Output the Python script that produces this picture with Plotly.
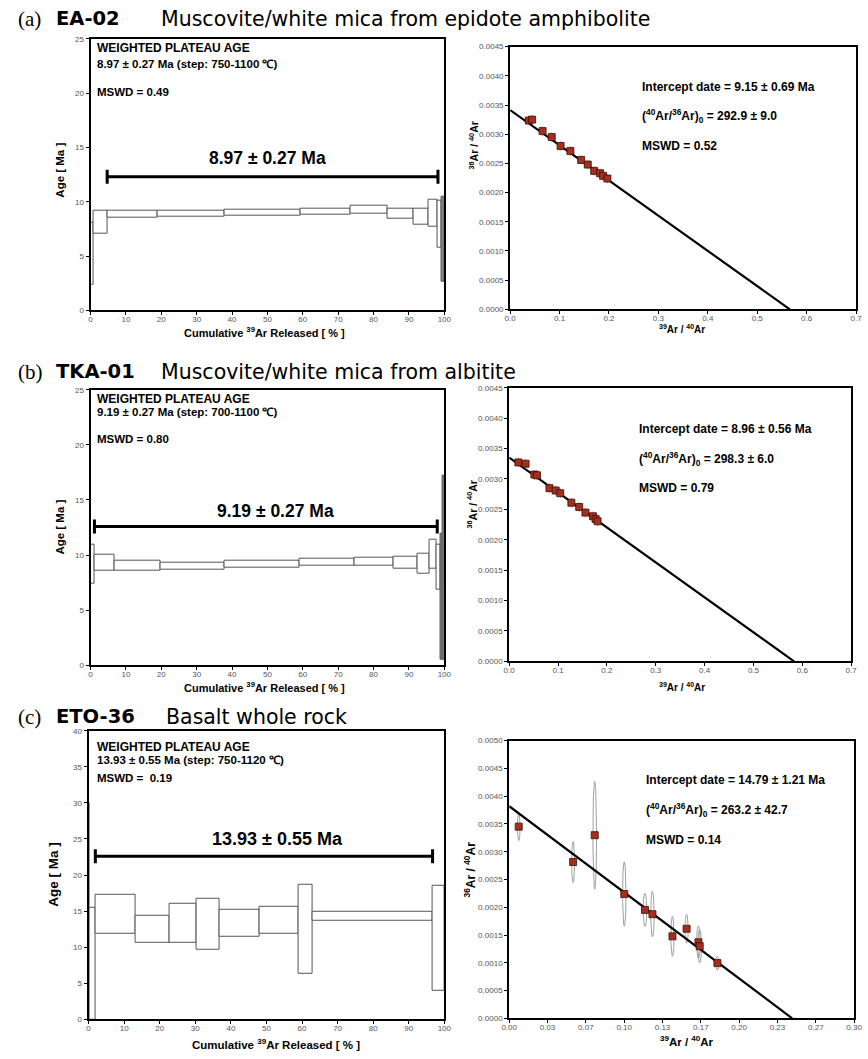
import numpy as np
import plotly.graph_objects as go

W, H = 868, 1059

# ---------------- DATA ----------------
# (a) EA-02 age spectrum (cumulative 39Ar %, age Ma)
a_step_x0 = [0.0, 0.9, 4.7, 19.0, 38.0, 59.4, 73.4, 84.0, 91.2, 95.6, 98.0]
a_step_x1 = [0.9, 4.7, 19.0, 38.0, 59.4, 73.4, 84.0, 91.2, 95.6, 98.0, 99.3]
a_age_lo = [2.4, 7.1, 8.5, 8.6, 8.7, 8.8, 8.9, 8.4, 7.9, 7.7, 5.8]
a_age_hi = [8.1, 9.2, 9.2, 9.15, 9.3, 9.4, 9.6, 9.4, 9.4, 10.2, 10.1]
a_last_x0 = [99.3]
a_last_x1 = [100.0]
a_last_lo = [2.6]
a_last_hi = [10.5]
a_plateau_x = [4.7, 98.2]
a_plateau_bar_age = 12.3
# (a) isochron
a_iso_x = [0.0377, 0.0444, 0.0656, 0.0841, 0.102, 0.1219, 0.1437, 0.157, 0.170, 0.182, 0.188, 0.1967]
a_iso_y = [0.003234, 0.00325, 0.003053, 0.002951, 0.002798, 0.002712, 0.002559, 0.00248,
           0.002372, 0.002332, 0.002287, 0.002241]
a_line_y0 = 0.003414
a_line_xint = 0.566

# (b) TKA-01 age spectrum
b_step_x0 = [0.0, 1.1, 6.7, 19.7, 37.9, 59.1, 74.5, 85.6, 92.3, 95.8, 97.9]
b_step_x1 = [1.1, 6.7, 19.7, 37.9, 59.1, 74.5, 85.6, 92.3, 95.8, 97.9, 98.8]
b_age_lo = [7.4, 8.6, 8.6, 8.7, 8.85, 9.0, 9.05, 8.8, 8.3, 8.8, 6.9]
b_age_hi = [10.9, 10.0, 9.45, 9.3, 9.5, 9.65, 9.8, 9.85, 10.1, 11.4, 10.9]
b_last_x0 = [98.8, 99.5]
b_last_x1 = [99.5, 100.0]
b_last_lo = [0.5, 0.5]
b_last_hi = [11.9, 17.2]
b_plateau_x = [1.1, 98.0]
b_plateau_bar_age = 12.6
# (b) isochron
b_iso_x = [0.0188, 0.0335, 0.0516, 0.0569, 0.0824, 0.0951, 0.1045, 0.1273, 0.1433, 0.1561,
           0.1715, 0.1768, 0.1809]
b_iso_y = [0.003272, 0.00325, 0.003071, 0.00306, 0.002848, 0.00281, 0.002766, 0.002609,
           0.002538, 0.002446, 0.002386, 0.002342, 0.002304]
b_line_y0 = 0.003352
b_line_xint = 0.583

# (c) ETO-36 age spectrum
c_step_x0 = [0.0, 0.4, 2.0, 13.3, 22.9, 30.4, 36.8, 48.2, 59.0, 63.1, 96.6]
c_step_x1 = [0.4, 2.0, 13.3, 22.9, 30.4, 36.8, 48.2, 59.0, 63.1, 96.6, 100.0]
c_age_lo = [0.0, 0.0, 11.8, 10.6, 10.55, 9.65, 11.4, 11.8, 6.3, 13.65, 3.9]
c_age_hi = [30.0, 15.5, 17.25, 14.3, 16.0, 16.75, 15.2, 15.55, 18.65, 14.95, 18.55]
c_plateau_x = [1.9, 96.7]
c_plateau_bar_age = 22.6
# (c) isochron with error ellipses
c_iso_x = [0.0083, 0.0556, 0.0744, 0.1001, 0.1181, 0.1246, 0.142, 0.1543, 0.1646, 0.1657, 0.1811]
c_iso_y = [0.003452, 0.002815, 0.003298, 0.002238, 0.001952, 0.001875, 0.001476, 0.001613,
           0.001369, 0.001298, 0.000994]
c_iso_sx = [0.0012, 0.0013, 0.0016, 0.0015, 0.0016, 0.0015, 0.0014, 0.0014, 0.0016, 0.0016, 0.0015]
c_iso_sy = [0.00025, 0.00037, 0.00097, 0.00058, 0.0003, 0.00041, 0.00036, 0.00026, 0.00029,
            0.0003, 0.000125]
c_line_y0 = 0.00382
c_line_xint = 0.2461
c_xtick_vals = [i / 30 for i in range(10)]
c_xtick_text = ['0.00', '0.03', '0.07', '0.10', '0.13', '0.17', '0.20', '0.23', '0.27', '0.30']

# ---------------- FIGURE ----------------
fig = go.Figure()

BOX_LINE = '#555555'
PT_FILL = '#a3301f'
PT_EDGE = '#3b0d06'


def add_spectrum(xa, ya, x0, x1, lo, hi, fill='white'):
    fig.add_trace(go.Bar(
        x=[(a + b) / 2 for a, b in zip(x0, x1)],
        y=[h - l for l, h in zip(lo, hi)],
        base=lo,
        width=[b - a for a, b in zip(x0, x1)],
        marker=dict(color=fill, line=dict(color=BOX_LINE, width=1)),
        xaxis=xa, yaxis=ya, showlegend=False, hoverinfo='skip'))


def add_plateau(xa, ya, xs, age):
    fig.add_trace(go.Scatter(
        x=xs, y=[age, age], mode='lines+markers',
        line=dict(color='black', width=3),
        marker=dict(symbol='line-ns', size=10, line=dict(color='black', width=3)),
        xaxis=xa, yaxis=ya, showlegend=False, hoverinfo='skip'))


def add_isoline(xa, ya, y0, xint):
    fig.add_trace(go.Scatter(
        x=[0, xint], y=[y0, 0], mode='lines', line=dict(color='black', width=2.2),
        xaxis=xa, yaxis=ya, showlegend=False, hoverinfo='skip'))


def add_points(xa, ya, xs, ys, ex=None, ey=None):
    kw = {}
    if ex is not None:
        kw['error_x'] = dict(type='constant', value=ex, color='#9a9a9a', thickness=1, width=0)
        kw['error_y'] = dict(type='constant', value=ey, color='#9a9a9a', thickness=1, width=0)
    fig.add_trace(go.Scatter(
        x=xs, y=ys, mode='markers',
        marker=dict(symbol='square', size=7, color=PT_FILL, line=dict(color=PT_EDGE, width=0.8)),
        xaxis=xa, yaxis=ya, showlegend=False, hoverinfo='skip', **kw))


# (a)
add_spectrum('x', 'y', a_step_x0, a_step_x1, a_age_lo, a_age_hi)
add_spectrum('x', 'y', a_last_x0, a_last_x1, a_last_lo, a_last_hi, fill='#8a8a8a')
add_plateau('x', 'y', a_plateau_x, a_plateau_bar_age)
add_isoline('x2', 'y2', a_line_y0, a_line_xint)
add_points('x2', 'y2', a_iso_x, a_iso_y, 0.003, 0.00008)

# (b)
add_spectrum('x3', 'y3', b_step_x0, b_step_x1, b_age_lo, b_age_hi)
add_spectrum('x3', 'y3', b_last_x0, b_last_x1, b_last_lo, b_last_hi, fill='#8a8a8a')
add_plateau('x3', 'y3', b_plateau_x, b_plateau_bar_age)
add_isoline('x4', 'y4', b_line_y0, b_line_xint)
add_points('x4', 'y4', b_iso_x, b_iso_y, 0.003, 0.00008)

# (c)
add_spectrum('x5', 'y5', c_step_x0, c_step_x1, c_age_lo, c_age_hi)
add_plateau('x5', 'y5', c_plateau_x, c_plateau_bar_age)
t = np.linspace(0, 2 * np.pi, 60)
ex_all, ey_all = [], []
for cx, cy, sx, sy in zip(c_iso_x, c_iso_y, c_iso_sx, c_iso_sy):
    ex_all += list(cx + sx * np.cos(t)) + [None]
    ey_all += list(cy + sy * np.sin(t)) + [None]
fig.add_trace(go.Scatter(x=ex_all, y=ey_all, mode='lines', line=dict(color='#a0a0a0', width=1),
                         xaxis='x6', yaxis='y6', showlegend=False, hoverinfo='skip'))
add_isoline('x6', 'y6', c_line_y0, c_line_xint)
add_points('x6', 'y6', c_iso_x, c_iso_y)


# ---------------- AXES ----------------
def dom_x(p0, p1):
    return [p0 / W, p1 / W]


def dom_y(top, bottom):
    return [1 - bottom / H, 1 - top / H]


TICKFONT = dict(family='Liberation Sans, Arial', size=8, color='#555555')
common = dict(showline=True, mirror=True, linecolor='black', linewidth=2, ticks='outside',
              ticklen=3, tickwidth=1, tickcolor='black', showgrid=False, zeroline=False,
              tickfont=TICKFONT, fixedrange=True)

panels = [
    # name, x-domain px, y-domain px (top,bottom), xrange, yrange, xdtick, ydtick, yfmt
    ('', (84, 444), (35, 309), [0, 100], [0, 25], 10, 5, None),
    ('2', (511, 863), (43, 308), [0, 0.7], [0, 0.0045], 0.1, 0.0005, '.4f'),
    ('3', (84, 444), (389, 667), [0, 100], [0, 25], 10, 5, None),
    ('4', (510, 858), (387, 663), [0, 0.7], [0, 0.0045], 0.1, 0.0005, '.4f'),
    ('5', (82, 444), (733, 1024), [0, 100], [0, 40], 10, 5, None),
    ('6', (510, 861), (743, 1023), [0, 0.3], [0, 0.005], None, 0.0005, '.4f'),
]
layout_axes = {}
for name, xd, yd, xr, yr, xdt, ydt, yfmt in panels:
    xa = dict(common, domain=dom_x(*xd), range=xr, anchor='y' + name, ticklabelstandoff=-3)
    if xdt is not None:
        xa['dtick'] = xdt
        xa['tick0'] = 0
        if xr[1] < 1:
            xa['tickformat'] = '.1f'
    else:
        xa['tickmode'] = 'array'
        xa['tickvals'] = c_xtick_vals
        xa['ticktext'] = c_xtick_text
    ya = dict(common, domain=dom_y(*yd), range=yr, anchor='x' + name, dtick=ydt, tick0=0)
    if yfmt:
        ya['tickformat'] = yfmt
    layout_axes['xaxis' + name] = xa
    layout_axes['yaxis' + name] = ya

fig.update_layout(**layout_axes)

# ---------------- TEXT ----------------
ann = []


def txt(px, py, text, size, family='Liberation Sans, Arial', xanchor='left', angle=0, color='black'):
    ann.append(dict(x=px / W, y=1 - py / H, xref='paper', yref='paper', text=text,
                    showarrow=False, xanchor=xanchor, yanchor='middle', textangle=angle,
                    borderpad=0, font=dict(family=family, size=size, color=color)))


SERIF = 'Liberation Serif, Times New Roman'
WIDE = 'DejaVu Sans'

# section headings
for py, lab, code, desc, dx in [(15, '(a)', 'EA-02', 'Muscovite/white mica from epidote amphibolite', 155),
                                (371, '(b)', 'TKA-01', 'Muscovite/white mica from albitite', 155),
                                (719, '(c)', 'ETO-36', 'Basalt whole rock', 160)]:
    txt(9, py, lab, 21, SERIF)
    txt(48, py, '<b>' + code + '</b>', 19.5, WIDE)
    txt(dx, py, desc, 20.5, WIDE)

# spectrum texts
spec_txt = [
    (44, 61, 89, '8.97 ± 0.27 Ma (step: 750-1100 ℃)', 'MSWD = 0.49', 264, 155, '8.97 ± 0.27 Ma', 17.5),
    (398, 412, 439, '9.19 ± 0.27 Ma (step: 700-1100 ℃)', 'MSWD = 0.80', 272, 511, '9.19 ± 0.27 Ma', 17.5),
    (749, 762, 781, '13.93 ± 0.55 Ma (step: 750-1120 ℃)', 'MSWD =  0.19', 274, 842, '13.93 ± 0.55 Ma', 18),
]
for y1, y2, y3, l2, l3, bx, by, big, bs in spec_txt:
    txt(90, y1, '<b>WEIGHTED PLATEAU AGE</b>', 12)
    txt(90, y2, '<b>' + l2 + '</b>', 11.5)
    txt(90, y3, '<b>' + l3 + '</b>', 11.5)
    txt(bx, by, '<b>' + big + '</b>', bs, xanchor='center')

# isochron texts
iso_txt = [
    (644, 84, 113, 143, '9.15 ± 0.69 Ma', '292.9 ± 9.0', '0.52'),
    (641, 429, 459, 488, '8.96 ± 0.56 Ma', '298.3 ± 6.0', '0.79'),
    (648, 783, 813, 843, '14.79 ± 1.21 Ma', '263.2 ± 42.7', '0.14'),
]
for px, y1, y2, y3, d, r, m in iso_txt:
    txt(px, y1, '<b>Intercept date = ' + d + '</b>', 12)
    txt(px, y2, '<b>(<sup>40</sup>Ar/<sup>36</sup>Ar)<sub>0</sub> = ' + r + '</b>', 12)
    txt(px, y3, '<b>MSWD = ' + m + '</b>', 12)

# axis titles
txt(52, 168, '<b>Age [ Ma ]</b>', 11.5, xanchor='center', angle=-90)
txt(52, 528, '<b>Age [ Ma ]</b>', 11.5, xanchor='center', angle=-90)
txt(46, 878, '<b>Age [ Ma ]</b>', 13.5, xanchor='center', angle=-90)
txt(261, 331, '<b>Cumulative <sup>39</sup>Ar Released [ % ]</b>', 11, xanchor='center')
txt(261, 689, '<b>Cumulative <sup>39</sup>Ar Released [ % ]</b>', 11, xanchor='center')
txt(273, 1049, '<b>Cumulative <sup>39</sup>Ar Released [ % ]</b>', 11.5, xanchor='center')
txt(474, 143, '<b><sup>36</sup>Ar / <sup>40</sup>Ar</b>', 10.5, xanchor='center', angle=-90)
txt(472, 505, '<b><sup>36</sup>Ar / <sup>40</sup>Ar</b>', 10.5, xanchor='center', angle=-90)
txt(470, 873, '<b><sup>36</sup>Ar / <sup>40</sup>Ar</b>', 12, xanchor='center', angle=-90)
txt(686, 328, '<b><sup>39</sup>Ar / <sup>40</sup>Ar</b>', 10, xanchor='center')
txt(686, 689, '<b><sup>39</sup>Ar / <sup>40</sup>Ar</b>', 10, xanchor='center')
txt(691, 1046, '<b><sup>39</sup>Ar / <sup>40</sup>Ar</b>', 11.5, xanchor='center')

fig.update_layout(
    width=W, height=H, margin=dict(l=0, r=0, t=0, b=0, pad=0),
    paper_bgcolor='white', plot_bgcolor='white', showlegend=False,
    barmode='overlay', bargap=0, annotations=ann,
)

fig.write_html('out.html', config={'displayModeBar': False},
               post_script="document.body.style.margin='0';document.body.style.overflow='hidden';")
